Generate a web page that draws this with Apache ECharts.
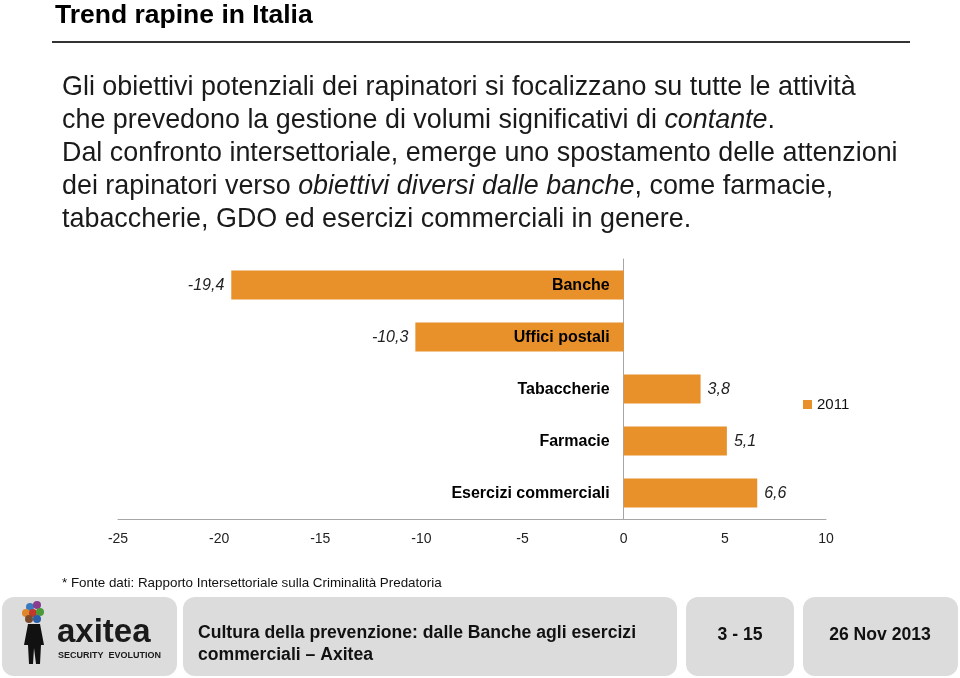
<!DOCTYPE html>
<html>
<head>
<meta charset="utf-8">
<script src="https://cdn.jsdelivr.net/npm/echarts@6/dist/echarts.min.js"></script>
<style>html,body{margin:0;padding:0;background:#fff;}#c{width:960px;height:678px;}</style>
</head>
<body>
<div id="c"></div>
<script>
const categories = ['Banche', 'Uffici postali', 'Tabaccherie', 'Farmacie', 'Esercizi commerciali'];
const values2011 = [-19.4, -10.3, 3.8, 5.1, 6.6];
const seriesName = '2011';
const xTicks = {min: -25, max: 10, interval: 5};

const FONT = '"Liberation Sans", Arial, sans-serif';
const chart = echarts.init(document.getElementById('c'), null, {renderer: 'canvas'});

const paraStyle = {fontFamily: FONT, fontSize: 26.9, fill: '#1a1a1a'};
const lines = [
  'Gli obiettivi potenziali dei rapinatori si focalizzano su tutte le attività',
  'che prevedono la gestione di volumi significativi di {i|contante}.',
  'Dal confronto intersettoriale, emerge uno spostamento delle attenzioni',
  'dei rapinatori verso {i|obiettivi diversi dalle banche}, come farmacie,',
  'tabaccherie, GDO ed esercizi commerciali in genere.'
];
const graphics = [];
graphics.push({type: 'text', left: 55, top: 2, style: {text: 'Trend rapine in Italia', fontFamily: FONT, fontSize: 26.5, fontWeight: 'bold', fill: '#000'}});
graphics.push({type: 'line', shape: {x1: 52, y1: 42, x2: 910, y2: 42}, style: {stroke: '#333', lineWidth: 2}});
lines.forEach((t, i) => {
  graphics.push({type: 'text', x: 62, y: 88 + i * 33, style: Object.assign({text: t, verticalAlign: 'middle', rich: {i: {fontStyle: 'italic', fontFamily: FONT, fontSize: 26.9, fill: '#1a1a1a'}}}, paraStyle)});
});
graphics.push({type: 'text', x: 62, y: 583, style: {text: '* Fonte dati: Rapporto Intersettoriale sulla Criminalità Predatoria', fontFamily: FONT, fontSize: 13.4, fill: '#111', verticalAlign: 'middle'}});
// footer boxes
[[2, 175], [183, 494], [686, 108], [803, 155]].forEach(b => {
  graphics.push({type: 'rect', shape: {x: b[0], y: 597, width: b[1], height: 79, r: 12}, style: {fill: '#dcdcdc'}});
});
// logo figure
[[30, 607, '#3a7bbf'], [37, 605, '#8a3d8f'], [26, 613, '#e0862a'], [33, 613, '#c0392b'], [40, 612, '#4a9a3a'], [29, 619, '#7b4a2a'], [37, 619, '#2a5ea8']].forEach(c => {
  graphics.push({type: 'circle', shape: {cx: c[0], cy: c[1], r: 4}, style: {fill: c[2]}});
});
graphics.push({type: 'polygon', shape: {points: [[28, 624], [40, 624], [44, 645], [41, 645], [40, 664], [36, 664], [34, 648], [33, 664], [29, 664], [28, 645], [24, 645]]}, style: {fill: '#111'}});
graphics.push({type: 'text', x: 57, y: 633, style: {text: 'axitea', fontFamily: FONT, fontSize: 33, fontWeight: 'bold', fill: '#1a1a1a', verticalAlign: 'middle'}});
graphics.push({type: 'text', x: 58, y: 656, style: {text: 'SECURITY  EVOLUTION', fontFamily: FONT, fontSize: 9, fontWeight: 'bold', fill: '#1a1a1a', verticalAlign: 'middle'}});
graphics.push({type: 'text', x: 198, y: 633, style: {text: 'Cultura della prevenzione: dalle Banche agli esercizi', fontFamily: FONT, fontSize: 17.6, fontWeight: 'bold', fill: '#111', verticalAlign: 'middle'}});
graphics.push({type: 'text', x: 198, y: 655, style: {text: 'commerciali – Axitea', fontFamily: FONT, fontSize: 17.6, fontWeight: 'bold', fill: '#111', verticalAlign: 'middle'}});
graphics.push({type: 'text', x: 740, y: 635, style: {text: '3 - 15', fontFamily: FONT, fontSize: 17.6, fontWeight: 'bold', fill: '#111', verticalAlign: 'middle', align: 'center'}});
graphics.push({type: 'text', x: 880, y: 635, style: {text: '26 Nov 2013', fontFamily: FONT, fontSize: 17.6, fontWeight: 'bold', fill: '#111', verticalAlign: 'middle', align: 'center'}});

chart.setOption({
  animation: false,
  textStyle: {fontFamily: FONT},
  grid: {left: 118, right: 134, top: 259, height: 260, containLabel: false, outerBoundsMode: 'none'},
  legend: {data: [seriesName], left: 798, top: 392, itemWidth: 9, itemHeight: 9, itemGap: 4, icon: 'rect',
    textStyle: {fontSize: 15, color: '#111', fontFamily: FONT}},
  xAxis: {type: 'value', min: xTicks.min, max: xTicks.max, interval: xTicks.interval,
    axisLine: {show: true, lineStyle: {color: '#a6a6a6', width: 1}},
    axisTick: {show: false}, splitLine: {show: false},
    axisLabel: {fontSize: 14, color: '#222', margin: 13, fontFamily: FONT}},
  yAxis: {type: 'category', data: categories, inverse: true,
    axisLine: {show: true, onZero: true, lineStyle: {color: '#a6a6a6', width: 1}},
    axisTick: {show: false},
    axisLabel: {show: false}},
  series: [{
    name: seriesName, type: 'bar', data: values2011, barWidth: 29,
    itemStyle: {color: '#e8902a'},
    label: {show: true, position: 'outside', fontStyle: 'italic', fontSize: 16, color: '#222', distance: 7,
      fontFamily: FONT, offset: [0, 1],
      formatter: p => String(p.value).replace('.', ',')}
  }, {
    name: 'labels', type: 'scatter', data: categories.map(c => [0, c]),
    symbolSize: 0, silent: true, z: 5,
    itemStyle: {opacity: 1},
    label: {show: true, position: 'left', distance: 14, fontSize: 16, fontWeight: 'bold', color: '#000',
      opacity: 1, offset: [0, 1], fontFamily: FONT, formatter: p => p.value[1]}
  }],
  graphic: graphics
});
</script>
</body>
</html>
